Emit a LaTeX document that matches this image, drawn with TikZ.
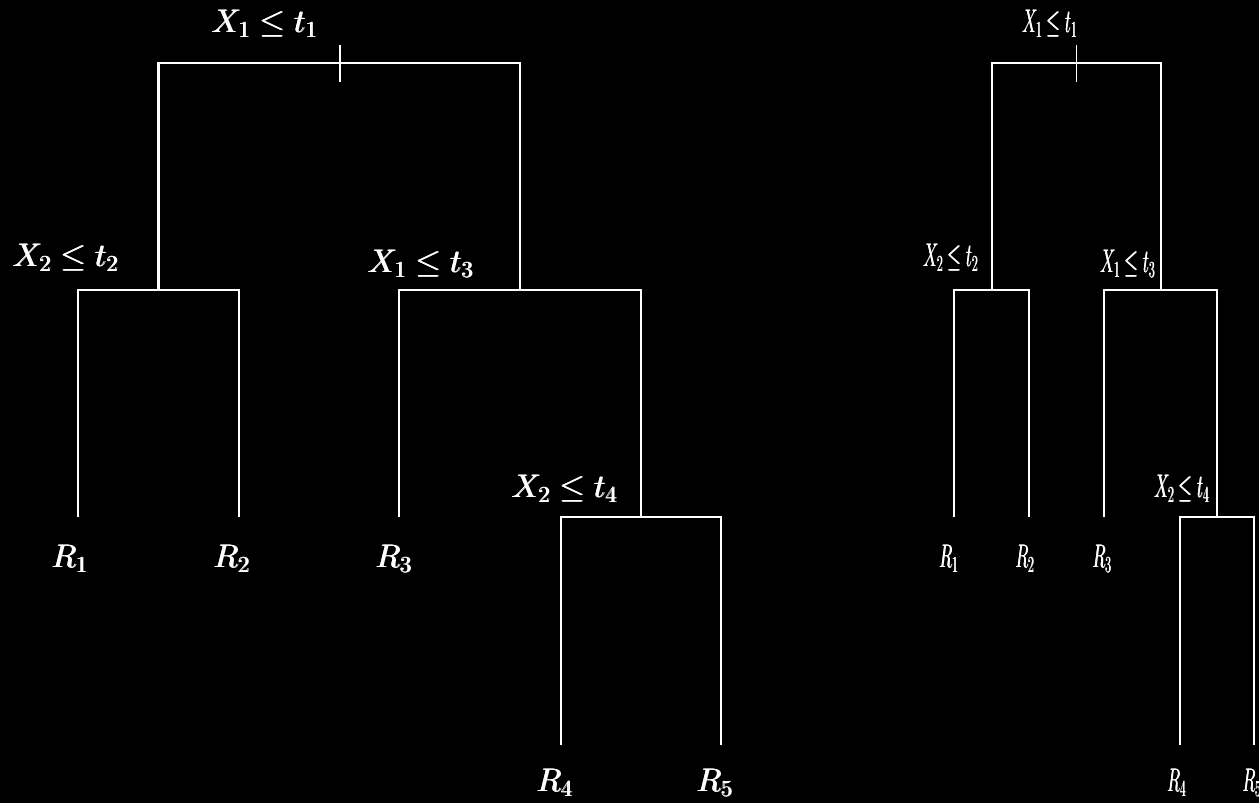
\documentclass[tikz,border=0pt]{standalone}
\usepackage{fix-cm}
\usepackage{graphicx}
\usetikzlibrary{positioning}
% thicker strokes for white-on-black labels
\newcommand{\heavy}[1]{\rlap{#1}\rlap{\raisebox{0.35pt}{#1}}\kern0.7pt#1}
\newcommand{\lbl}[1]{\heavy{$#1$}}
\newcommand{\nlbl}[1]{\scalebox{0.52}[1]{\heavy{$#1$}}}
\tikzset{
  branch/.style={draw=white, line width=1.5pt},
  thinbranch/.style={draw=white, line width=1.1pt},
  split/.style={text=white, anchor=base, inner sep=0pt,
    font=\fontsize{18.6}{22}\selectfont},
  region/.style={split}
}

\begin{document}
\begin{tikzpicture}[x=0.02cm, y=-0.02cm]
  \fill[black] (0,0) rectangle (1259,803);
  \useasboundingbox (0,0) rectangle (1259,803);

  % wide tree
  \coordinate (root) at (340,63);
  \coordinate (s2) at (158.5,290);
  \coordinate (s3) at (520,290);
  \coordinate (s4) at (641,517);
  \coordinate (r1) at (78,517);
  \coordinate (r2) at (239,517);
  \coordinate (r3) at (399,517);
  \coordinate (r4) at (561,745);
  \coordinate (r5) at (721,745);

  \draw[branch] (s2) |- (root) -| (s3);
  \draw[branch] (r1) |- (s2) -| (r2);
  \draw[branch] (r3) |- (s3) -| (s4);
  \draw[branch] (r4) |- (s4) -| (r5);
  \draw[branch] (root) ++(0,-18) -- ++(0,37);

  \node[split] (t1) at (265,33) {\lbl{X_1 \leq t_1}};
  \node[split] (t2) at (66,267) {\lbl{X_2 \leq t_2}};
  \node[split] (t3) at (421,273) {\lbl{X_1 \leq t_3}};
  \node[split] (t4) at (565,498) {\lbl{X_2 \leq t_4}};
  \node[region] (R1) at (70,568) {\lbl{R_1}};
  \node[region] (R2) at (232,568) {\lbl{R_2}};
  \node[region] (R3) at (394,568) {\lbl{R_3}};
  \node[region] (R4) at (555,792) {\lbl{R_4}};
  \node[region] (R5) at (715,792) {\lbl{R_5}};

  % narrow tree
  \begin{scope}[shift={(917.7,0)}, xscale=0.467]
    \coordinate (nroot) at (340,63);
    \coordinate (ns2) at (158.5,290);
    \coordinate (ns3) at (520,290);
    \coordinate (ns4) at (641,517);
    \coordinate (nr1) at (78,517);
    \coordinate (nr2) at (239,517);
    \coordinate (nr3) at (399,517);
    \coordinate (nr4) at (561,745);
    \coordinate (nr5) at (721,745);

    \draw[thinbranch] (ns2) |- (nroot) -| (ns3);
    \draw[thinbranch] (nr1) |- (ns2) -| (nr2);
    \draw[thinbranch] (nr3) |- (ns3) -| (ns4);
    \draw[thinbranch] (nr4) |- (ns4) -| (nr5);
    \draw[thinbranch] (nroot) ++(0,-18) -- ++(0,37);

    \node[split] (nt1) at (283,33) {\nlbl{X_1 \leq t_1}};
    \node[split] (nt2) at (71,267) {\nlbl{X_2 \leq t_2}};
    \node[split] (nt3) at (450,273) {\nlbl{X_1 \leq t_3}};
    \node[split] (nt4) at (566,498) {\nlbl{X_2 \leq t_4}};
    \node[region] (nR1) at (67,568) {\nlbl{R_1}};
    \node[region] (nR2) at (230,568) {\nlbl{R_2}};
    \node[region] (nR3) at (395,568) {\nlbl{R_3}};
    \node[region] (nR4) at (555,792) {\nlbl{R_4}};
    \node[region] (nR5) at (716,792) {\nlbl{R_5}};
  \end{scope}
\end{tikzpicture}
\end{document}
